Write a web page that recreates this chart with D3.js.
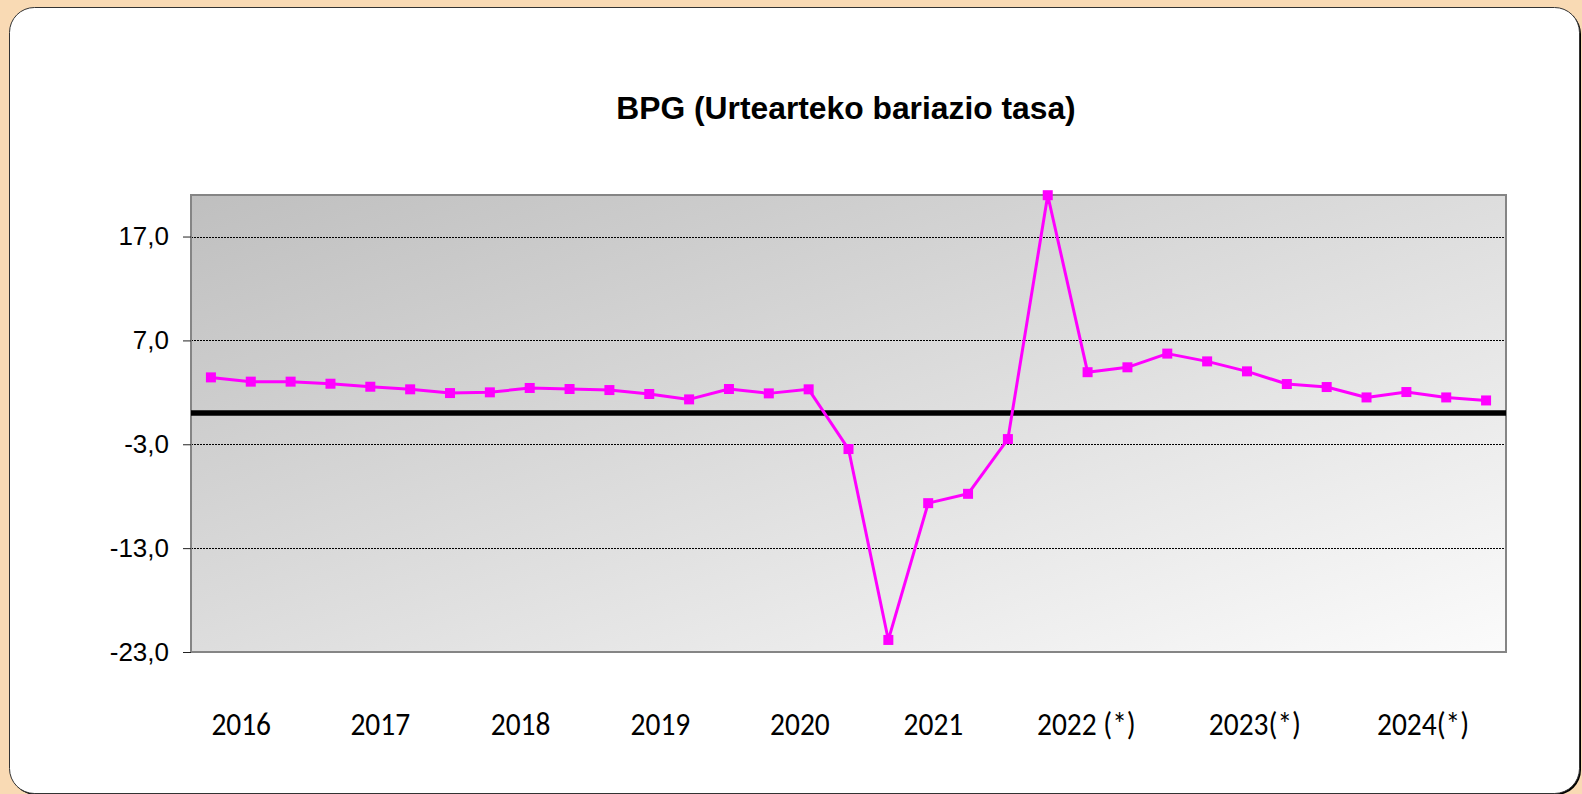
<!DOCTYPE html>
<html>
<head>
<meta charset="utf-8">
<script src="https://cdn.jsdelivr.net/npm/d3@7"></script>
<style>
  html, body { margin: 0; padding: 0; background: #f9dab4; }
  svg { display: block; }
</style>
</head>
<body>
<div id="chart"></div>
<script>
  // quarters 2016-I .. 2024-I
  const quarters = [
    "2016-I", "2016-II", "2016-III", "2016-IV",
    "2017-I", "2017-II", "2017-III", "2017-IV",
    "2018-I", "2018-II", "2018-III", "2018-IV",
    "2019-I", "2019-II", "2019-III", "2019-IV",
    "2020-I", "2020-II", "2020-III", "2020-IV",
    "2021-I", "2021-II", "2021-III", "2021-IV",
    "2022-I", "2022-II", "2022-III", "2022-IV",
    "2023-I", "2023-II", "2023-III", "2023-IV",
    "2024-I"
  ];
  const bpg = [
    3.44, 3.03, 3.03, 2.83, 2.54, 2.29, 1.93, 2.0,
    2.42, 2.32, 2.22, 1.84, 1.32, 2.32, 1.90, 2.29,
    -3.46, -21.84, -8.67, -7.77, -2.5, 20.98, 3.94, 4.41,
    5.73, 4.98, 4.02, 2.80, 2.51, 1.51, 2.03, 1.51,
    1.22
  ];
  const yTicks = [-23, -13, -3, 7, 17];
  const yearLabels = ["2016", "2017", "2018", "2019", "2020", "2021", "2022 (*)", "2023(*)", "2024(*)"];
  // where each year label sits along the category axis (in quarter index units)
  const yearLabelAt = [0.76, 4.25, 7.77, 11.28, 14.78, 18.13, 21.97, 26.2, 30.42];
  const title = "BPG (Urtearteko bariazio tasa)";

  const width = 1582;
  const height = 794;
  const plot = { left: 191, top: 195, width: 1315, height: 457 };

  const svg = d3.select("#chart")
    .append("svg")
    .attr("width", width)
    .attr("height", height);

  const defs = svg.append("defs");
  const grad = defs.append("linearGradient")
    .attr("id", "plotBg")
    .attr("x1", 0).attr("y1", 0)
    .attr("x2", 1).attr("y2", 1);
  grad.append("stop").attr("offset", "0%").attr("stop-color", "#bfbfbf");
  grad.append("stop").attr("offset", "100%").attr("stop-color", "#fbfbfb");

  // card
  svg.append("rect")
    .attr("x", 11).attr("y", 9)
    .attr("width", 1570).attr("height", 786)
    .attr("rx", 25).attr("ry", 25)
    .attr("fill", "#000");
  svg.append("rect")
    .attr("x", 9.5).attr("y", 7.5)
    .attr("width", 1570).attr("height", 786)
    .attr("rx", 25).attr("ry", 25)
    .attr("fill", "#fff")
    .attr("stroke", "#333")
    .attr("stroke-width", 1);

  svg.append("text")
    .attr("x", 846)
    .attr("y", 119)
    .attr("text-anchor", "middle")
    .style("font-family", "Arial, 'Liberation Sans', sans-serif")
    .style("font-weight", "bold")
    .style("font-size", "31.8px")
    .attr("fill", "#000")
    .text(title);

  const chartArea = svg.append("g")
    .attr("transform", `translate(${plot.left},${plot.top})`);

  const xScale = d3.scaleLinear()
    .domain([-0.5, quarters.length - 0.5])
    .range([0, plot.width]);
  const yScale = d3.scaleLinear()
    .domain([-23, 21])
    .range([plot.height, 0]);

  chartArea.append("rect")
    .attr("width", plot.width)
    .attr("height", plot.height)
    .attr("fill", "url(#plotBg)");

  // dotted gridlines
  chartArea.selectAll("line.grid")
    .data(yTicks.filter(t => t > -23))
    .enter()
    .append("line")
    .attr("class", "grid")
    .attr("x1", 0)
    .attr("x2", plot.width)
    .attr("y1", d => Math.round(yScale(d)) + 0.5)
    .attr("y2", d => Math.round(yScale(d)) + 0.5)
    .attr("stroke", "#000")
    .attr("stroke-width", 1)
    .attr("stroke-dasharray", "2,1");

  chartArea.append("rect")
    .attr("width", plot.width)
    .attr("height", plot.height)
    .attr("fill", "none")
    .attr("stroke", "#858585")
    .attr("stroke-width", 2);

  const yAxis = d3.axisLeft(yScale)
    .tickValues(yTicks)
    .tickSize(8)
    .tickPadding(14)
    .tickFormat(d => d.toFixed(1).replace(".", ","));
  const yAxisGroup = chartArea.append("g").call(yAxis);
  yAxisGroup.select(".domain").remove();
  yAxisGroup.selectAll(".tick line").attr("stroke", "#222");
  yAxisGroup.selectAll(".tick text")
    .style("font-family", "Arial, 'Liberation Sans', sans-serif")
    .style("font-size", "26px")
    .attr("fill", "#000");

  // zero line
  chartArea.append("line")
    .attr("x1", 0)
    .attr("x2", plot.width)
    .attr("y1", yScale(0))
    .attr("y2", yScale(0))
    .attr("stroke", "#000")
    .attr("stroke-width", 5.5);

  const line = d3.line()
    .x((d, i) => xScale(i))
    .y(d => yScale(d));

  chartArea.append("path")
    .datum(bpg)
    .attr("d", line)
    .attr("fill", "none")
    .attr("stroke", "#ff00ff")
    .attr("stroke-width", 3)
    .attr("stroke-linejoin", "round");

  chartArea.selectAll("rect.marker")
    .data(bpg)
    .enter()
    .append("rect")
    .attr("class", "marker")
    .attr("x", (d, i) => xScale(i) - 5)
    .attr("y", d => yScale(d) - 5)
    .attr("width", 10)
    .attr("height", 10)
    .attr("fill", "#ff00ff");

  // year labels under the plot
  chartArea.selectAll("text.year")
    .data(yearLabels)
    .enter()
    .append("text")
    .attr("class", "year")
    .attr("transform", (d, i) => `translate(${xScale(yearLabelAt[i])},${plot.height + 83}) scale(0.92,1)`)
    .attr("text-anchor", "middle")
    .style("font-family", "Carlito, Calibri, Lato, sans-serif")
    .style("font-size", "32px")
    .attr("fill", "#000")
    .text(d => d);
</script>
</body>
</html>
